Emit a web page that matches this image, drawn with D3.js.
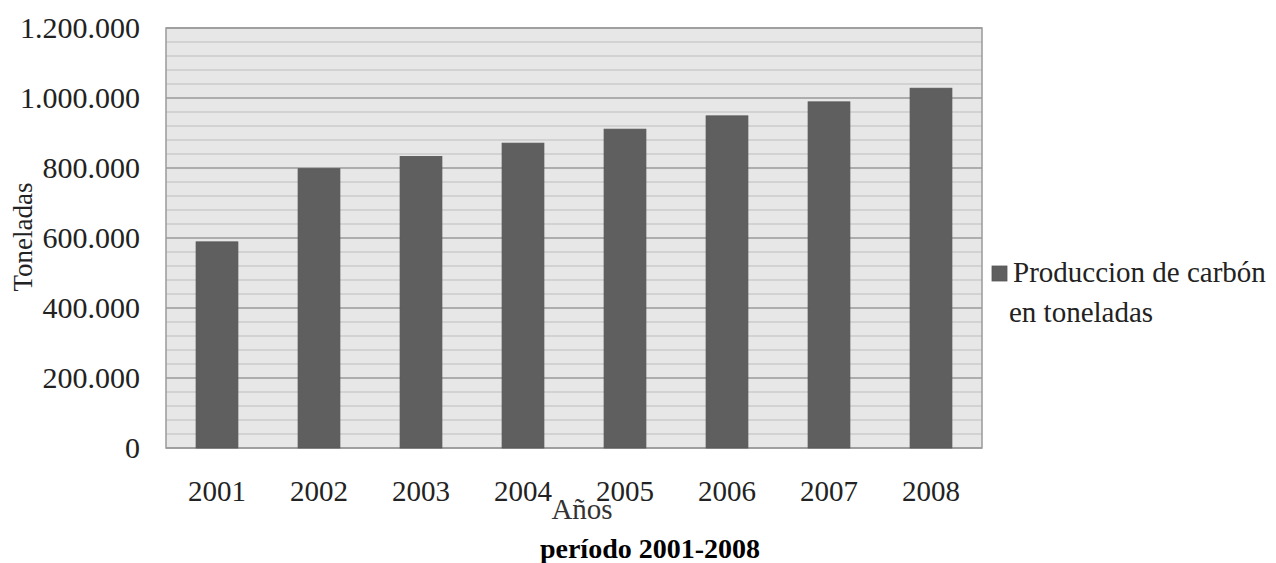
<!DOCTYPE html>
<html>
<head>
<meta charset="utf-8">
<script src="https://cdn.jsdelivr.net/npm/d3@7"></script>
<style>
  html, body { margin: 0; padding: 0; background: #ffffff; }
  svg { display: block; }
</style>
</head>
<body>
<svg id="chart" width="1276" height="563"></svg>
<script>
// Coal production (tonnes) per year
const years = ["2001", "2002", "2003", "2004", "2005", "2006", "2007", "2008"];
const production = [589000, 798000, 833000, 871000, 911000, 949000, 989000, 1028000];
const yTicks = [0, 200000, 400000, 600000, 800000, 1000000, 1200000];
const seriesName = ["Produccion de carbón", "en toneladas"];
const yTitle = "Toneladas";
const xTitle = "Años";
const caption = "período 2001-2008";

const SERIF = "'Liberation Serif', 'Times New Roman', serif";

const svg = d3.select("#chart");
const plot = { left: 166, right: 982, top: 28, bottom: 448 };

const x = d3.scaleBand().domain(years).range([plot.left, plot.right]).paddingInner(0.59).paddingOuter(0.295);
const y = d3.scaleLinear().domain([0, 1200000]).range([plot.bottom, plot.top]);

// plot background
svg.append("rect")
  .attr("x", plot.left).attr("y", plot.top)
  .attr("width", plot.right - plot.left).attr("height", plot.bottom - plot.top)
  .attr("fill", "#e7e7e7");

// minor gridlines every 40.000, major every 200.000
const minor = d3.range(0, 1200001, 40000);
svg.append("g").selectAll("line").data(minor).join("line")
  .attr("x1", plot.left).attr("x2", plot.right)
  .attr("y1", d => y(d)).attr("y2", d => y(d))
  .attr("stroke", d => d % 200000 === 0 ? "#9a9a9a" : "#bdbdbd")
  .attr("stroke-width", d => d % 200000 === 0 ? 1.6 : 1.2);

// plot frame
svg.append("rect")
  .attr("x", plot.left).attr("y", plot.top)
  .attr("width", plot.right - plot.left).attr("height", plot.bottom - plot.top)
  .attr("fill", "none").attr("stroke", "#9a9a9a").attr("stroke-width", 1.5);

// bars
svg.append("g").selectAll("rect").data(years).join("rect")
  .attr("x", d => x(d))
  .attr("y", (d, i) => y(production[i]))
  .attr("width", x.bandwidth())
  .attr("height", (d, i) => y(0) - y(production[i]))
  .attr("fill", "#5f5f5f")
  .attr("stroke", "#555").attr("stroke-width", 0.8);

// y axis labels
const fmt = v => d3.format(",")(v).replace(/,/g, ".");
const yAxis = d3.axisLeft(y).tickValues(yTicks).tickFormat(fmt).tickSize(0).tickPadding(0);
const yg = svg.append("g").attr("transform", `translate(140,0)`).call(yAxis);
yg.select(".domain").remove();
yg.attr("font-family", SERIF);
yg.selectAll("text")
  .style("font-family", SERIF)
  .attr("font-size", 30).attr("fill", "#222").attr("dy", "0.33em");

// x axis labels
const xAxis = d3.axisBottom(x).tickSize(0).tickPadding(0);
const xg = svg.append("g").attr("transform", `translate(0,501)`).call(xAxis);
xg.select(".domain").remove();
xg.attr("font-family", SERIF);
xg.selectAll("text")
  .style("font-family", SERIF)
  .attr("font-size", 29).attr("fill", "#222").attr("dy", 0).attr("y", 0);

// axis titles
svg.append("text")
  .attr("transform", "translate(32,237) rotate(-90)")
  .attr("text-anchor", "middle")
  .style("font-family", SERIF)
  .attr("font-size", 27).attr("fill", "#222")
  .text(yTitle);

svg.append("text")
  .attr("x", 582).attr("y", 519)
  .attr("text-anchor", "middle")
  .style("font-family", SERIF)
  .attr("font-size", 29)
  .attr("fill", "#333")
  .text(xTitle);

// legend
svg.append("rect")
  .attr("x", 992).attr("y", 266).attr("width", 15).attr("height", 15)
  .attr("fill", "#5f5f5f").attr("stroke", "#555").attr("stroke-width", 0.8);
svg.append("g").selectAll("text").data(seriesName).join("text")
  .attr("x", (d, i) => i === 0 ? 1013 : 1009)
  .attr("y", (d, i) => 282 + i * 40)
  .style("font-family", SERIF)
  .attr("font-size", 29).attr("fill", "#222")
  .text(d => d);

// caption
svg.append("text")
  .attr("x", 650).attr("y", 558)
  .attr("text-anchor", "middle")
  .style("font-family", SERIF)
  .attr("font-size", 28).attr("font-weight", "bold")
  .attr("fill", "#000")
  .text(caption);
</script>
</body>
</html>
